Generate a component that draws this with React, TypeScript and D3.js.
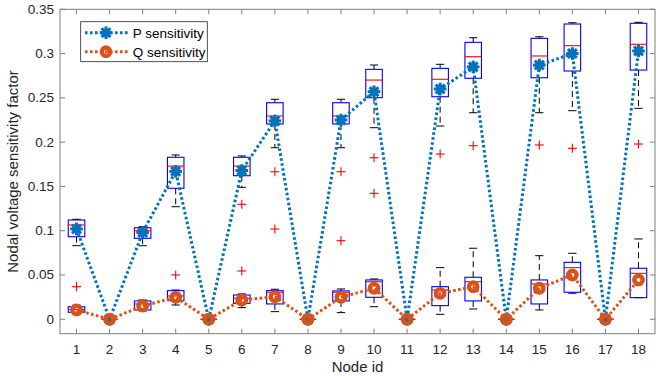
import React from "react";
import * as d3 from "d3";

// node ids on the x axis
const nodes = d3.range(1, 19);
const yTicks = [0, 0.05, 0.1, 0.15, 0.2, 0.25, 0.3, 0.35];

// line values (markers)
const pMean = [0.102, 0, 0.098, 0.167, 0, 0.168, 0.224, 0, 0.225, 0.257, 0, 0.26, 0.285, 0, 0.287, 0.3, 0, 0.303];
const qMean = [0.0105, 0, 0.015, 0.0248, 0, 0.0218, 0.0255, 0, 0.0248, 0.035, 0, 0.0293, 0.0368, 0, 0.035, 0.05, 0, 0.0444];

// box stats per node: [lower whisker, q1, median, q3, upper whisker]
const pStats = [
  [0.0831, 0.0932, 0.1065, 0.1121, 0.1129],
  [0, 0, 0, 0, 0],
  [0.083, 0.0914, 0.1, 0.1034, 0.1045],
  [0.1271, 0.1479, 0.173, 0.1829, 0.1855],
  [0, 0, 0, 0, 0],
  [0.149, 0.1621, 0.173, 0.1829, 0.1844],
  [0.1937, 0.2205, 0.2295, 0.2445, 0.2484],
  [0, 0, 0, 0, 0],
  [0.1937, 0.2205, 0.2295, 0.2445, 0.2484],
  [0.2163, 0.2502, 0.2701, 0.2822, 0.2871],
  [0, 0, 0, 0, 0],
  [0.2182, 0.2513, 0.271, 0.2833, 0.2879],
  [0.2332, 0.2721, 0.2965, 0.3127, 0.3179],
  [0, 0, 0, 0, 0],
  [0.2332, 0.2727, 0.2973, 0.3172, 0.319],
  [0.2355, 0.2803, 0.3089, 0.3334, 0.3348],
  [0, 0, 0, 0, 0],
  [0.2382, 0.2814, 0.3105, 0.3342, 0.3353],
];
const pOutliers = [[], [], [], [], [], [0.1298], [0.1666, 0.1019], [], [0.1666, 0.0887], [0.1824, 0.1422], [], [0.1866], [0.196], [], [0.1968], [0.193], [], [0.1979]];

const qStats = [
  [0.006, 0.0079, 0.011, 0.0142, 0.016],
  [0, 0, 0, 0, 0],
  [0.0094, 0.0105, 0.0173, 0.0207, 0.0218],
  [0.0161, 0.021, 0.0263, 0.0323, 0.033],
  [0, 0, 0, 0, 0],
  [0.0131, 0.018, 0.0237, 0.0274, 0.0286],
  [0.0086, 0.0173, 0.0305, 0.0323, 0.0339],
  [0, 0, 0, 0, 0],
  [0.0075, 0.0207, 0.0305, 0.032, 0.0342],
  [0.0142, 0.0248, 0.0424, 0.0444, 0.0455],
  [0, 0, 0, 0, 0],
  [0.0056, 0.0154, 0.0331, 0.0368, 0.0583],
  [0.0116, 0.0207, 0.0424, 0.0474, 0.0802],
  [0, 0, 0, 0, 0],
  [0.0105, 0.0173, 0.0399, 0.0444, 0.0718],
  [0.0294, 0.0305, 0.0583, 0.0643, 0.0745],
  [0, 0, 0, 0, 0],
  [0.0244, 0.0244, 0.0519, 0.0576, 0.0907],
];
const qOutliers = [[0.0368], [], [], [0.05], [], [0.0545], [], [], [], [], [], [], [], [], [], [], [], []];

const W = 664;
const H = 376;
const left = 60;
const right = 655;
const top = 9.3;
const bottom = 333.7;

const BLUE = "#0072BD";
const ORANGE = "#D95319";
const FONT = "'Liberation Sans', Arial, Helvetica, sans-serif";
const TXT = "#262626";
const AX = "#808080";

const x = d3.scaleLinear().domain([0.5, 18.5]).range([left, right]);
const y = d3.scaleLinear().domain([-0.0163, 0.35]).range([bottom, top]);

const Asterisk = ({ cx, cy, r = 6.3 }: { cx: number; cy: number; r?: number }) => (
  <g stroke={BLUE} strokeWidth={3} strokeLinecap="butt">
    {[0, 45, 90, 135].map((a) => {
      const t = (a * Math.PI) / 180;
      return (
        <line
          key={a}
          x1={cx - r * Math.cos(t)}
          y1={cy - r * Math.sin(t)}
          x2={cx + r * Math.cos(t)}
          y2={cy + r * Math.sin(t)}
        />
      );
    })}
    <circle cx={cx} cy={cy} r={4.3} fill={BLUE} stroke="none" />
  </g>
);

const Ring = ({ cx, cy }: { cx: number; cy: number }) => (
  <circle cx={cx} cy={cy} r={4.2} fill="none" stroke={ORANGE} strokeWidth={4.4} />
);

const Box = ({ node, s, outs }: { node: number; s: number[]; outs: number[] }) => {
  const cx = x(node);
  const bw = x(0.75) - x(0.5);
  const cw = x(0.625) - x(0.5);
  const [lo, q1, med, q3, hi] = s;
  return (
    <g>
      <line x1={cx} x2={cx} y1={y(q3)} y2={y(hi)} stroke="#000" strokeWidth={1} strokeDasharray="6 4" />
      <line x1={cx} x2={cx} y1={y(q1)} y2={y(lo)} stroke="#000" strokeWidth={1} strokeDasharray="6 4" />
      <line x1={cx - cw} x2={cx + cw} y1={y(hi)} y2={y(hi)} stroke="#000" strokeWidth={1} />
      <line x1={cx - cw} x2={cx + cw} y1={y(lo)} y2={y(lo)} stroke="#000" strokeWidth={1} />
      <rect x={cx - bw} y={y(q3)} width={2 * bw} height={Math.max(0, y(q1) - y(q3))} fill="none" stroke="#0000FF" strokeWidth={1.1} />
      <line x1={cx - bw} x2={cx + bw} y1={y(med)} y2={y(med)} stroke="#FF0000" strokeWidth={1.1} />
      {outs.map((o, i) => (
        <g key={i} stroke="#FF0000" strokeWidth={1.1}>
          <line x1={cx - 4.5} x2={cx + 4.5} y1={y(o)} y2={y(o)} />
          <line x1={cx} x2={cx} y1={y(o) - 4.5} y2={y(o) + 4.5} />
        </g>
      ))}
    </g>
  );
};

const App = () => {
  const line = d3
    .line<number>()
    .x((_, i) => x(nodes[i]))
    .y((d) => y(d));

  return (
    <svg width={W} height={H} style={{ position: "absolute", left: 0, top: 0, background: "#fff" }} fontFamily={FONT}>
      <rect x={0} y={0} width={W} height={H} fill="#fff" />
      <rect x={left} y={top} width={right - left} height={bottom - top} fill="#fff" />

      {/* boxplots */}
      {nodes.map((n, i) => (
        <Box key={"p" + n} node={n} s={pStats[i]} outs={pOutliers[i]} />
      ))}
      {nodes.map((n, i) => (
        <Box key={"q" + n} node={n} s={qStats[i]} outs={qOutliers[i]} />
      ))}

      {/* sensitivity lines */}
      <path d={line(pMean) || ""} fill="none" stroke={BLUE} strokeWidth={3} strokeDasharray="2.6 2.4" />
      {pMean.map((v, i) => (
        <Asterisk key={i} cx={x(nodes[i])} cy={y(v)} />
      ))}
      <path d={line(qMean) || ""} fill="none" stroke={ORANGE} strokeWidth={3} strokeDasharray="2.6 2.4" />
      {qMean.map((v, i) => (
        <Ring key={i} cx={x(nodes[i])} cy={y(v)} />
      ))}

      {/* axes frame */}
      <rect x={left} y={top} width={right - left} height={bottom - top} fill="none" stroke={AX} strokeWidth={1} />
      {nodes.map((n) => (
        <g key={n} stroke={AX} strokeWidth={1}>
          <line x1={x(n)} x2={x(n)} y1={bottom} y2={bottom - 5} />
          <line x1={x(n)} x2={x(n)} y1={top} y2={top + 5} />
        </g>
      ))}
      {yTicks.map((t) => (
        <g key={t} stroke={AX} strokeWidth={1}>
          <line x1={left} x2={left + 5} y1={y(t)} y2={y(t)} />
          <line x1={right} x2={right - 5} y1={y(t)} y2={y(t)} />
        </g>
      ))}
      {nodes.map((n) => (
        <text key={n} x={x(n)} y={354} textAnchor="middle" fontSize={13.5} fill={TXT}>
          {n}
        </text>
      ))}
      {yTicks.map((t) => (
        <text key={t} x={54} y={y(t) + 4.5} textAnchor="end" fontSize={13.5} fill={TXT}>
          {d3.format("~g")(t)}
        </text>
      ))}
      <text x={(left + right) / 2} y={372} textAnchor="middle" fontSize={15} fill={TXT}>
        Node id
      </text>
      <text
        transform={`translate(18, ${(top + bottom) / 2}) rotate(-90)`}
        textAnchor="middle"
        fontSize={15}
        fill={TXT}
      >
        Nodal voltage sensitivity factor
      </text>

      {/* legend */}
      <rect x={80.7} y={21.7} width={126.6} height={40} fill="#fff" stroke={TXT} strokeWidth={0.8} />
      <line x1={85} x2={128} y1={32.7} y2={32.7} stroke={BLUE} strokeWidth={3} strokeDasharray="2.6 2.4" />
      <Asterisk cx={106} cy={32.7} />
      <text x={132.7} y={37.5} fontSize={13.5} fill="#000">
        P sensitivity
      </text>
      <line x1={85} x2={128} y1={51.7} y2={51.7} stroke={ORANGE} strokeWidth={3} strokeDasharray="2.6 2.4" />
      <Ring cx={106} cy={51.7} />
      <text x={132.7} y={56.5} fontSize={13.5} fill="#000">
        Q sensitivity
      </text>
    </svg>
  );
};

export default App;
